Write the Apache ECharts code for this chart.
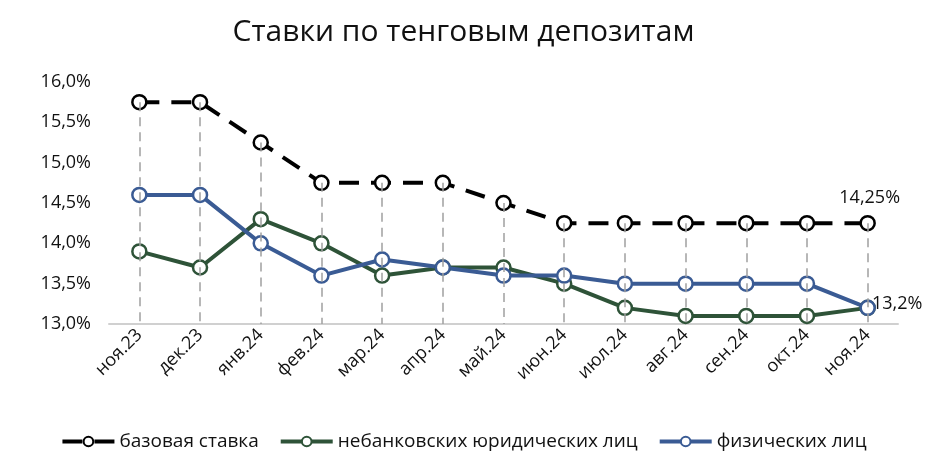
<!DOCTYPE html>
<html><head><meta charset="utf-8">
<script src="https://cdn.jsdelivr.net/npm/echarts@6/dist/echarts.min.js"></script>
<style>html,body{margin:0;padding:0;background:#fff}#c{width:927px;height:469px}</style>
</head><body><div id="c"></div>
<script>
const categories = ['ноя.23','дек.23','янв.24','фев.24','мар.24','апр.24','май.24','июн.24','июл.24','авг.24','сен.24','окт.24','ноя.24'];
const baseRate = [15.75,15.75,15.25,14.75,14.75,14.75,14.5,14.25,14.25,14.25,14.25,14.25,14.25];
const legalEntities = [13.9,13.7,14.3,14.0,13.6,13.7,13.7,13.5,13.2,13.1,13.1,13.1,13.2];
const individuals = [14.6,14.6,14.0,13.6,13.8,13.7,13.6,13.6,13.5,13.5,13.5,13.5,13.2];
const yTicks = [13.0,13.5,14.0,14.5,15.0,15.5,16.0];
const seriesNames = ['базовая ставка','небанковских юридических лиц','физических лиц'];

const fmt = v => v.toFixed(1).replace('.', ',') + '%';
const FONT = 'Open Sans';
const chart = echarts.init(document.getElementById('c'));
const last = categories.length - 1;

const dropLines = categories.map((c, i) => {
  const top = Math.max(baseRate[i], legalEntities[i], individuals[i]);
  return [{xAxis: c, yAxis: top}, {xAxis: c, yAxis: yTicks[0]}];
});

function sym(color) {
  return {color: '#fff', borderColor: color, borderWidth: 2.5};
}

chart.setOption({
  animation: false,
  title: {text: 'Ставки по тенговым депозитам', left: 'center', top: 12,
    textStyle: {fontFamily: FONT, fontSize: 30, fontWeight: 'normal', color: '#111'}},
  grid: {left: 109, right: 29, top: 82, bottom: 145},
  legend: {bottom: 13, left: 'center', itemWidth: 52, itemHeight: 12, itemGap: 20,
    lineStyle: {width: 4},
    textStyle: {fontFamily: FONT, fontSize: 19, color: '#111'},
    data: seriesNames},
  xAxis: {type: 'category', data: categories, boundaryGap: true,
    axisLine: {lineStyle: {color: '#d0d0d0', width: 2}},
    axisTick: {show: false},
    axisLabel: {rotate: 45, fontFamily: FONT, fontSize: 18, color: '#111', margin: 8, interval: 0}},
  yAxis: {type: 'value', min: 13, max: 16, interval: 0.5,
    axisLine: {show: false}, axisTick: {show: false}, splitLine: {show: false},
    axisLabel: {formatter: fmt, fontFamily: FONT, fontSize: 18, color: '#111', margin: 18}},
  series: [
    {name: seriesNames[0], type: 'line', data: baseRate, symbol: 'circle', symbolSize: 14,
      lineStyle: {color: '#000', width: 4, type: [20, 12]}, itemStyle: sym('#000'), z: 3,
      label: {show: true, position: 'top', distance: 8, offset: [2, 0], fontFamily: FONT, fontSize: 18, color: '#111',
        formatter: p => p.dataIndex === last ? p.value.toFixed(2).replace('.', ',') + '%' : ''}},
    {name: seriesNames[1], type: 'line', data: legalEntities, symbol: 'circle', symbolSize: 14,
      lineStyle: {color: '#2e5338', width: 4}, itemStyle: sym('#2e5338'), z: 2},
    {name: seriesNames[2], type: 'line', data: individuals, symbol: 'circle', symbolSize: 14,
      lineStyle: {color: '#3a5b94', width: 4}, itemStyle: sym('#3a5b94'), z: 2,
      label: {show: true, position: 'right', distance: -4, offset: [0, -4], fontFamily: FONT, fontSize: 18, color: '#111',
        formatter: p => p.dataIndex === last ? fmt(p.value) : ''},
      markLine: {silent: true, symbol: 'none', label: {show: false},
        lineStyle: {color: '#a0a0a0', width: 1.5, type: [9, 6]}, data: dropLines}}
  ]
});
</script></body></html>
